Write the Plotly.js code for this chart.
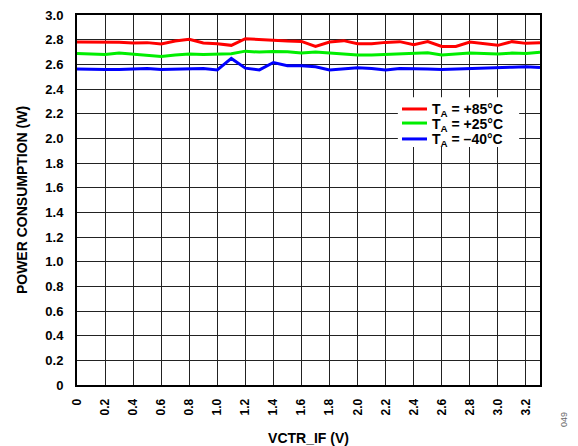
<!DOCTYPE html>
<html><head><meta charset="utf-8">
<script src="https://cdn.plot.ly/plotly-3.0.1.min.js"></script>
<style>html,body{margin:0;padding:0;background:#fff}#c{width:578px;height:446px}</style>
</head><body><div id="c"></div>
<script>
const vctr = [0,0.1,0.2,0.3,0.4,0.5,0.6,0.7,0.8,0.9,1.0,1.1,1.2,1.3,1.4,1.5,1.6,1.7,1.8,1.9,2.0,2.1,2.2,2.3,2.4,2.5,2.6,2.7,2.8,2.9,3.0,3.1,3.2,3.3];
const p85 = [2.781,2.781,2.781,2.779,2.773,2.776,2.765,2.789,2.803,2.773,2.767,2.754,2.808,2.800,2.792,2.789,2.786,2.745,2.781,2.792,2.767,2.767,2.778,2.784,2.759,2.784,2.745,2.745,2.781,2.767,2.754,2.784,2.770,2.776];
const p25 = [2.688,2.683,2.680,2.691,2.680,2.675,2.664,2.675,2.683,2.680,2.683,2.686,2.707,2.699,2.705,2.702,2.691,2.699,2.691,2.683,2.675,2.675,2.680,2.683,2.688,2.694,2.675,2.686,2.691,2.688,2.683,2.691,2.688,2.699];
const pm40 = [2.563,2.558,2.558,2.558,2.561,2.566,2.558,2.561,2.566,2.566,2.555,2.648,2.569,2.555,2.615,2.588,2.588,2.580,2.555,2.563,2.572,2.566,2.555,2.566,2.566,2.563,2.558,2.563,2.566,2.572,2.574,2.577,2.580,2.574];
const seriesNames = ['T<sub>A</sub> = +85°C','T<sub>A</sub> = +25°C','T<sub>A</sub> = –40°C'];
const xTicks = [0,0.2,0.4,0.6,0.8,1.0,1.2,1.4,1.6,1.8,2.0,2.2,2.4,2.6,2.8,3.0,3.2];
const xTickText = ['0','0.2','0.4','0.6','0.8','1.0','1.2','1.4','1.6','1.8','2.0','2.2','2.4','2.6','2.8','3.0','3.2'];
const yTicks = [0,0.2,0.4,0.6,0.8,1.0,1.2,1.4,1.6,1.8,2.0,2.2,2.4,2.6,2.8,3.0];
const yTickText = ['0','0.2','0.4','0.6','0.8','1.0','1.2','1.4','1.6','1.8','2.0','2.2','2.4','2.6','2.8','3.0'];

const F = 'Liberation Sans, Arial, sans-serif';
const colors = ['#ff0000','#00ee00','#0000ff'];
const ys = [p85,p25,pm40];
const traces = ys.map((y,i)=>({x:vctr,y:y,type:'scatter',mode:'lines',name:seriesNames[i],
  line:{color:colors[i],width:3},showlegend:false}));

// custom compact legend (box, swatches, labels)
const legRowY = [0.746,0.708,0.665];
const shapes = [{type:'rect',xref:'paper',yref:'paper',x0:0.693,x1:0.955,y0:0.643,y1:0.778,
  fillcolor:'#fff',line:{width:0},layer:'above'}];
const annotations = [];
seriesNames.forEach((n,i)=>{
  shapes.push({type:'line',xref:'paper',yref:'paper',x0:0.702,x1:0.756,y0:legRowY[i],y1:legRowY[i],
    line:{color:colors[i],width:3},layer:'above'});
  annotations.push({text:n,xref:'paper',yref:'paper',x:0.762,y:legRowY[i]-0.004,xanchor:'left',yanchor:'middle',
    showarrow:false,font:{family:F,size:14,color:'#000',weight:'bold'}});
});
annotations.push({text:'049',xref:'paper',yref:'paper',x:1.067,y:-0.12,showarrow:false,
  textangle:-90,font:{family:F,size:9,color:'#666'}});

const layout = {
  width:578,height:446,
  margin:{l:77,r:38,t:15,b:61},
  paper_bgcolor:'#fff',plot_bgcolor:'#fff',
  font:{family:F,color:'#000'},
  showlegend:false,
  xaxis:{range:[0,3.3],tickvals:xTicks,ticktext:xTickText,tickangle:-90,
    tickfont:{family:F,size:12,weight:'bold'},showgrid:true,gridcolor:'#222',gridwidth:1,
    showline:true,linecolor:'#000',linewidth:2,mirror:true,ticks:'',zeroline:false,
    ticklabelstandoff:7,automargin:false,
    title:{text:'VCTR_IF (V)',font:{family:F,size:14,weight:'bold'},standoff:19}},
  yaxis:{range:[0,3.0],tickvals:yTicks,ticktext:yTickText,
    tickfont:{family:F,size:13,weight:'bold'},showgrid:true,gridcolor:'#222',gridwidth:1,
    showline:true,linecolor:'#000',linewidth:2,mirror:true,ticks:'',zeroline:false,
    ticklabelstandoff:9,automargin:false,
    title:{text:'POWER CONSUMPTION (W)',font:{family:F,size:14,weight:'bold'},standoff:14}},
  shapes:shapes,
  annotations:annotations
};
Plotly.newPlot('c',traces,layout,{displayModeBar:false,staticPlot:true});
</script></body></html>
